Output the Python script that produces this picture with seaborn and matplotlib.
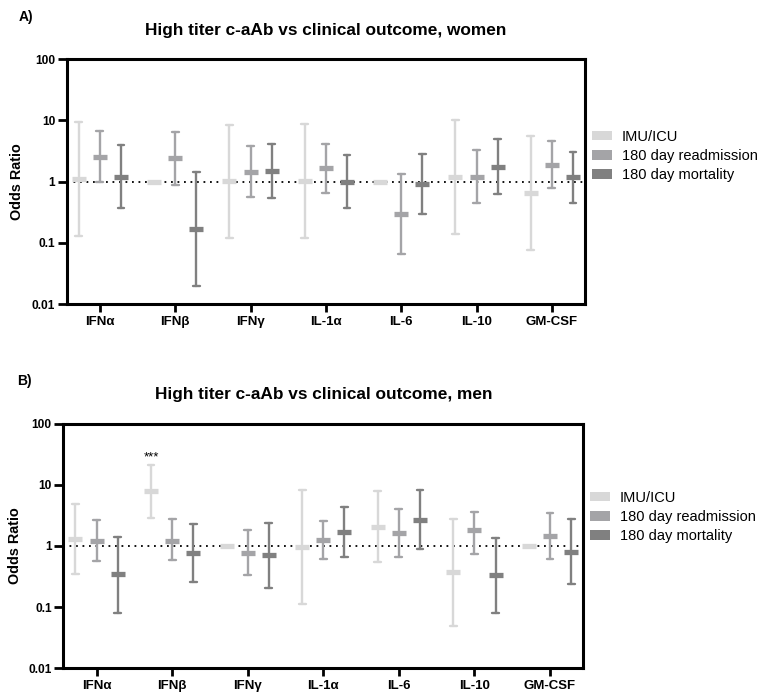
import pandas as pd
import matplotlib
matplotlib.use('Agg')
import matplotlib.pyplot as plt
from matplotlib.patches import Patch
import seaborn as sns

# =========================================================
# DATA (odds ratio + 95% CI)
# =========================================================
CYTOKINES = ['IFNα', 'IFNβ', 'IFNγ', 'IL-1α', 'IL-6', 'IL-10', 'GM-CSF']
OUTCOMES = ['IMU/ICU', '180 day readmission', '180 day mortality']
COLORS = ['#d8d8d8', '#a4a4a7', '#808080']

# women, one list per outcome (IMU/ICU, readmission, mortality)
women_or = [[1.09, 1.0, 1.02, 1.01, 1.0, 1.18, 0.65],
            [2.56, 2.4, 1.44, 1.65, 0.297, 1.21, 1.87],
            [1.21, 0.167, 1.51, 1.0, 0.93, 1.76, 1.18]]
women_lo = [[0.127, 1.0, 0.12, 0.12, 1.0, 0.14, 0.077],
            [1.0, 0.87, 0.556, 0.66, 0.065, 0.45, 0.78],
            [0.37, 0.020, 0.54, 0.37, 0.30, 0.62, 0.45]]
women_hi = [[9.4, 1.0, 8.5, 8.7, 1.0, 10.1, 5.6],
            [6.7, 6.6, 3.77, 4.1, 1.33, 3.3, 4.6],
            [3.9, 1.44, 4.2, 2.75, 2.83, 4.9, 3.08]]

# men
men_or = [[1.3, 7.8, 1.0, 0.98, 2.03, 0.38, 1.0],
          [1.19, 1.19, 0.78, 1.25, 1.62, 1.8, 1.47],
          [0.35, 0.78, 0.70, 1.7, 2.7, 0.33, 0.81]]
men_lo = [[0.345, 2.85, 1.0, 0.114, 0.54, 0.049, 1.0],
          [0.56, 0.59, 0.33, 0.62, 0.65, 0.74, 0.61],
          [0.081, 0.26, 0.206, 0.67, 0.89, 0.081, 0.24]]
men_hi = [[4.85, 21.0, 1.0, 8.3, 7.8, 2.74, 1.0],
          [2.7, 2.8, 1.8, 2.54, 4.07, 3.6, 3.47],
          [1.42, 2.3, 2.4, 4.3, 8.2, 1.33, 2.8]]

YTICKS = [0.01, 0.1, 1, 10, 100]
YTICK_LABELS = ['0.01', '0.1', '1', '10', '100']


def long_table(odds, lower, upper):
    # three rows per point: median -> OR, min/max -> CI
    rows = []
    for j, outcome in enumerate(OUTCOMES):
        for i, cyt in enumerate(CYTOKINES):
            for v in (lower[j][i], odds[j][i], upper[j][i]):
                rows.append({'Cytokine': cyt, 'Outcome': outcome, 'OR': v})
    return pd.DataFrame(rows)


sns.set_theme(style="ticks")
plt.rcParams['font.family'] = ['Liberation Sans', 'DejaVu Sans']
plt.rcParams['text.color'] = 'black'
plt.rcParams['axes.labelcolor'] = 'black'

W, H = 760, 695
fig = plt.figure(figsize=(W / 100, H / 100), dpi=100)


def px_axes(left, top, right, bottom):
    return fig.add_axes([left / W, 1 - bottom / H, (right - left) / W, (bottom - top) / H])


def draw_panel(ax, df):
    ax.axhline(1, color='black', linestyle=(0, (1, 2.6)), linewidth=1.3, zorder=1)
    sns.pointplot(data=df, x='Cytokine', y='OR', hue='Outcome',
                  order=CYTOKINES, hue_order=OUTCOMES, palette=COLORS,
                  estimator='median', errorbar=('pi', 100),
                  dodge=0.56, markers='_', linestyle='none',
                  markersize=9.8, markeredgewidth=3.8,
                  capsize=0.09, err_kws={'linewidth': 1.7},
                  legend=False, ax=ax)
    ax.set_yscale('log')
    ax.set_ylim(0.01, 100)
    ax.set_xlim(-0.44, 6.44)
    ax.set_yticks(YTICKS)
    ax.set_yticklabels(YTICK_LABELS)
    ax.minorticks_off()
    ax.set_xlabel('')
    ax.set_ylabel('')
    for s in ax.spines.values():
        s.set_linewidth(2.2)
        s.set_color('black')
    ax.tick_params(axis='y', length=6.5, width=2.0, pad=1.8, labelsize=8.6, colors='black')
    ax.tick_params(axis='x', length=5.5, width=2.0, pad=3.0, labelsize=9.5, colors='black')
    for lab in ax.get_xticklabels() + ax.get_yticklabels():
        lab.set_fontweight('bold')


def add_legend(ax, x, y):
    handles = [Patch(facecolor=c, edgecolor='none') for c in COLORS]
    leg = ax.legend(handles, OUTCOMES, loc='upper left', bbox_to_anchor=(x / W, 1 - y / H),
                    bbox_transform=fig.transFigure, frameon=False, fontsize=10.5,
                    handlelength=1.35, handleheight=0.6, handletextpad=0.7,
                    labelspacing=0.35, borderpad=0, borderaxespad=0)
    for t in leg.get_texts():
        t.set_color('black')


# =========================================================
# PANEL A: WOMEN
# =========================================================
ax1 = px_axes(66.7, 59.3, 585, 304)
draw_panel(ax1, long_table(women_or, women_lo, women_hi))
add_legend(ax1, 592, 130)
fig.text(325.8 / W, 1 - 30 / H, 'High titer c-aAb vs clinical outcome, women',
         ha='center', va='center', fontsize=12.4, fontweight='bold')
fig.text(19 / W, 1 - 17 / H, 'A)', ha='left', va='center', fontsize=10, fontweight='bold')
fig.text(17 / W, 1 - 182 / H, 'Odds Ratio', rotation=90, ha='center', va='center',
         fontsize=10.4, fontweight='bold')

# =========================================================
# PANEL B: MEN
# =========================================================
ax2 = px_axes(63.3, 423.7, 583.3, 668.3)
draw_panel(ax2, long_table(men_or, men_lo, men_hi))
add_legend(ax2, 590, 491)
fig.text(323.3 / W, 1 - 394 / H, 'High titer c-aAb vs clinical outcome, men',
         ha='center', va='center', fontsize=12.4, fontweight='bold')
fig.text(17 / W, 1 - 381 / H, 'B)', ha='left', va='center', fontsize=10, fontweight='bold')
fig.text(15 / W, 1 - 546 / H, 'Odds Ratio', rotation=90, ha='center', va='center',
         fontsize=10.4, fontweight='bold')

# significance mark above IFNβ IMU/ICU
ax2.annotate('***', xy=(1 - 0.28, men_hi[0][1]), xytext=(0, 1.5), textcoords='offset points',
             ha='center', va='bottom', fontsize=9.5)

fig.savefig('out.png', dpi=100)
